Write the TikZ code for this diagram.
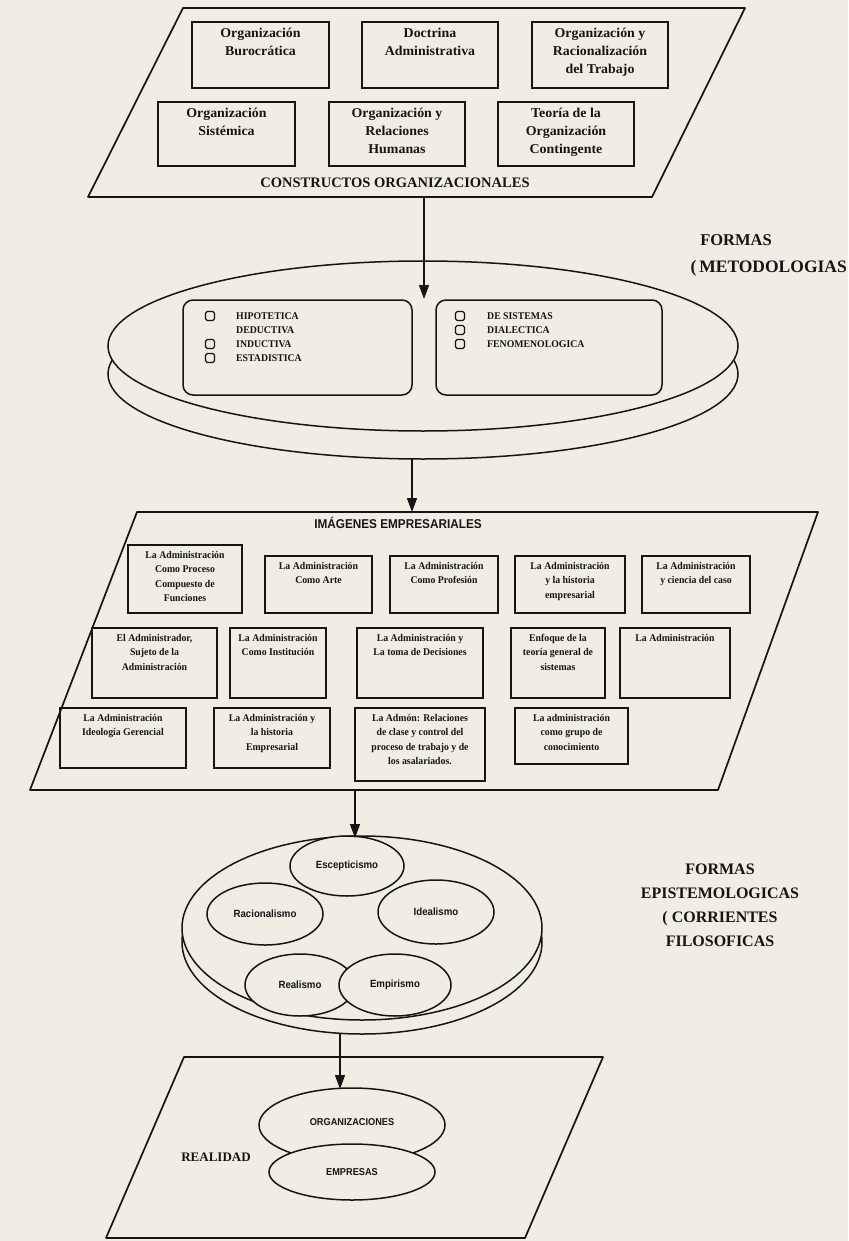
\documentclass[tikz,border=0pt]{standalone}
\usepackage{fontspec}
\setmainfont{Liberation Serif}
\newfontfamily\nsans[FakeStretch=0.92]{Liberation Sans}
\newfontfamily\nserif[FakeStretch=0.95]{Liberation Serif}
\newfontfamily\wserif[FakeStretch=1.03]{Liberation Serif}
\usetikzlibrary{arrows.meta,shapes.geometric}
\definecolor{paper}{HTML}{F0EDE4}
\definecolor{ink}{HTML}{151515}
\newcommand\tbox[7]{\draw[boxline] (#3,#4) rectangle (#5,#6);
  \node[#1,anchor=north] (#2) at ({(#3+#5)/2},{#4+6}) {#7};}
\begin{document}
\begin{tikzpicture}[x=1pt,y=-1pt,
  frame/.style={draw=ink,line width=1.7pt,line join=round},
  boxline/.style={draw=ink,line width=1.5pt},
  arr/.style={draw=ink,line width=1.4pt,-{Triangle[length=14pt,width=10pt]}},
  oval/.style={ellipse,draw=ink,line width=1.5pt,fill=paper,inner sep=0pt},
  toptxt/.style={font=\wserif\bfseries\fontsize{13.5}{18}\selectfont,align=center,inner sep=0pt,text=ink},
  midtxt/.style={font=\nserif\bfseries\fontsize{10.3}{14.5}\selectfont,align=center,inner sep=0pt,text=ink},
  itm/.style={font=\nserif\bfseries\fontsize{10.3}{12}\selectfont,inner sep=0pt,text=ink,anchor=west},
  chk/.style={draw=ink,line width=1.2pt,rounded corners=1.8pt,minimum size=9pt,inner sep=0pt},
  big/.style={font=\bfseries\fontsize{16}{24}\selectfont,align=center,inner sep=0pt,text=ink},
  sanstxt/.style={font=\nsans\bfseries\fontsize{10.5}{12}\selectfont,inner sep=0pt,text=ink}]
\useasboundingbox (0,0) rectangle (848,1241);
\fill[paper] (0,0) rectangle (848,1241);

% ---------- top parallelogram
\draw[frame] (183,8) -- (745,8) -- (652,197) -- (88,197) -- cycle;
\coordinate (p1s) at (424,197);
\tbox{toptxt}{b1}{192}{22}{329}{88}{Organización\\Burocrática}
\tbox{toptxt}{b2}{362}{22}{498}{88}{Doctrina\\Administrativa}
\tbox{toptxt}{b3}{532}{22}{668}{88}{Organización y\\Racionalización\\del Trabajo}
\tbox{toptxt}{b4}{158}{102}{295}{166}{Organización\\Sistémica}
\tbox{toptxt}{b5}{329}{102}{465}{166}{Organización y\\Relaciones\\Humanas}
\tbox{toptxt}{b6}{498}{102}{634}{166}{Teoría de la\\Organización\\Contingente}
\node[font=\bfseries\fontsize{14.5}{16}\selectfont,text=ink,inner sep=0pt] (constr) at (395,183) {CONSTRUCTOS ORGANIZACIONALES};

% ---------- methodologies cylinder
\node[big,font=\bfseries\fontsize{16.5}{20}\selectfont] (formas1) at (736,240) {FORMAS};
\node[big,font=\bfseries\fontsize{17.5}{20}\selectfont,anchor=east] (metod) at (847,268) {(\,METODOLOGIAS};
\node[oval,minimum width=630pt,minimum height=170pt] (cyl1b) at (423,374) {};
\node[oval,minimum width=630pt,minimum height=170pt] (cyl1) at (423,346) {};
\draw[boxline,rounded corners=10pt] (183,300) rectangle (412,395);
\draw[boxline,rounded corners=10pt] (436,300) rectangle (662,395);
\coordinate (c1in) at (424,299);
\node[chk] (k1) at (210,316) {};
\node[chk] (k2) at (210,344) {};
\node[chk] (k3) at (210,358) {};
\node[itm] (i1) at (236,316) {HIPOTETICA};
\node[itm] (i2) at (236,330) {DEDUCTIVA};
\node[itm] (i3) at (236,344) {INDUCTIVA};
\node[itm] (i4) at (236,358) {ESTADISTICA};
\node[chk] (k4) at (460,316) {};
\node[chk] (k5) at (460,330) {};
\node[chk] (k6) at (460,344) {};
\node[itm] (j1) at (487,316) {DE SISTEMAS};
\node[itm] (j2) at (487,330) {DIALECTICA};
\node[itm] (j3) at (487,344) {FENOMENOLOGICA};
\coordinate (c1out) at (412,458);

% ---------- middle parallelogram
\draw[frame] (137,512) -- (818,512) -- (718,790) -- (30,790) -- cycle;
\coordinate (p2in) at (412,512);
\coordinate (p2out) at (355,790);
\node[font=\nsans\bfseries\fontsize{12.8}{14}\selectfont,text=ink,inner sep=0pt] (imag) at (398,523) {IMÁGENES EMPRESARIALES};
\tbox{midtxt}{a1}{128}{545}{242}{613}{La Administración\\Como Proceso\\Compuesto de\\Funciones}
\tbox{midtxt}{a2}{265}{556}{372}{613}{La Administración\\Como Arte}
\tbox{midtxt}{a3}{390}{556}{498}{613}{La Administración\\Como Profesión}
\tbox{midtxt}{a4}{515}{556}{625}{613}{La Administración\\y la historia\\empresarial}
\tbox{midtxt}{a5}{642}{556}{750}{613}{La Administración\\y ciencia del caso}
\tbox{midtxt}{r1}{92}{628}{217}{698}{El Administrador,\\Sujeto de la\\Administración}
\tbox{midtxt}{r2}{230}{628}{326}{698}{La Administración\\Como Institución}
\tbox{midtxt}{r3}{357}{628}{483}{698}{La Administración y\\La toma de Decisiones}
\tbox{midtxt}{r4}{511}{628}{605}{698}{Enfoque de la\\teoría general de\\sistemas}
\tbox{midtxt}{r5}{620}{628}{730}{698}{La Administración}
\tbox{midtxt}{s1}{60}{708}{186}{768}{La Administración\\Ideología Gerencial}
\tbox{midtxt}{s2}{214}{708}{330}{768}{La Administración y\\la historia\\Empresarial}
\tbox{midtxt}{s3}{355}{708}{485}{781}{La Admón: Relaciones\\de clase y control del\\proceso de trabajo y de\\los asalariados.}
\tbox{midtxt}{s4}{515}{708}{628}{764}{La administración\\como grupo de\\conocimiento}

% ---------- epistemological cylinder
\node[oval,minimum width=360pt,minimum height=184pt] (cyl2b) at (362,942) {};
\node[oval,minimum width=360pt,minimum height=184pt] (cyl2) at (362,928) {};
\coordinate (c2in) at (355,838);
\node[oval,minimum width=116pt,minimum height=62pt] (rac) at (265,914) {};
\node[oval,minimum width=116pt,minimum height=64pt] (ide) at (436,912) {};
\node[oval,minimum width=110pt,minimum height=62pt] (rea) at (300,985) {};
\node[oval,minimum width=112pt,minimum height=62pt] (emp) at (395,985) {};
\node[oval,minimum width=114pt,minimum height=60pt] (esc) at (347,866) {};
\node[sanstxt] (tesc) at (esc) {Escepticismo};
\node[sanstxt] (trac) at (rac) {Racionalismo};
\node[sanstxt] (tide) at (ide) {Idealismo};
\node[sanstxt] (trea) at (rea) {Realismo};
\node[sanstxt] (temp) at (emp) {Empirismo};
\node[big] (formas2) at (720,905) {FORMAS\\EPISTEMOLOGICAS\\( CORRIENTES\\FILOSOFICAS};
\coordinate (c2out) at (340,1033);

% ---------- reality
\draw[frame] (184,1057) -- (603,1057) -- (525,1238) -- (106,1238) -- cycle;
\node[oval,minimum width=186pt,minimum height=74pt] (org) at (352,1125) {};
\node[oval,minimum width=166pt,minimum height=56pt] (empr) at (352,1172) {};
\node[sanstxt,font=\nsans\bfseries\fontsize{10}{11}\selectfont] (torg) at (352,1122) {ORGANIZACIONES};
\node[sanstxt,font=\nsans\bfseries\fontsize{10}{11}\selectfont] (tempr) at (empr) {EMPRESAS};
\node[font=\bfseries\fontsize{13}{14}\selectfont,text=ink,inner sep=0pt] (real) at (216,1157) {REALIDAD};
\coordinate (orgtop) at (340,1089);

% ---------- connectors
\draw[arr] (p1s) -- (c1in);
\draw[arr] (c1out) -- (p2in);
\draw[arr] (p2out) -- (c2in);
\draw[arr] (c2out) -- (orgtop);
\end{tikzpicture}
\end{document}
